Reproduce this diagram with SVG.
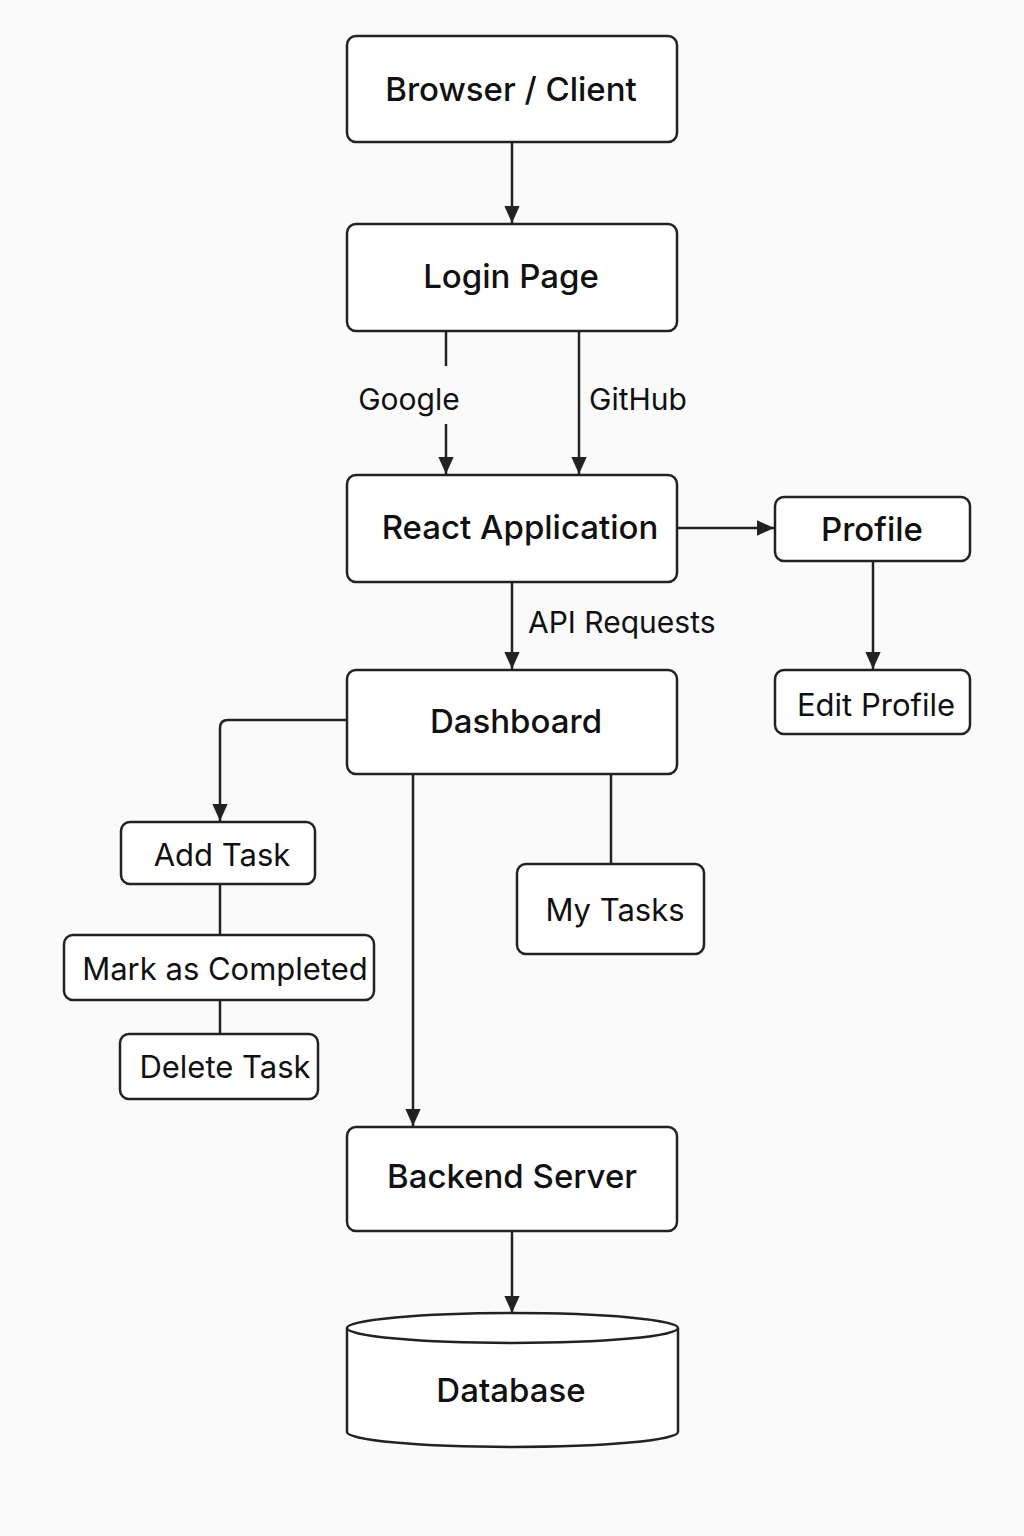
<svg xmlns="http://www.w3.org/2000/svg" width="1024" height="1536" viewBox="0 0 1024 1536">
<defs>
<marker id="arr" viewBox="0 0 10 10" refX="10" refY="5" markerWidth="17" markerHeight="17" markerUnits="userSpaceOnUse" orient="auto">
<path d="M0,0.5 L10,5 L0,9.5 z" fill="#222"/>
</marker>
<style>
.box{fill:#fff;stroke:#222;stroke-width:2.5}
.t{font-family:Inter,"Noto Sans","Liberation Sans",sans-serif;fill:#111;text-anchor:middle}
.big{font-size:33px;font-weight:500}
.mid{font-size:31px;font-weight:400}
.lbl{font-family:Inter,"Noto Sans","Liberation Sans",sans-serif;fill:#111;font-size:30px}
.c{fill:none;stroke:#222;stroke-width:2.5}
</style>
</defs>
<rect width="1024" height="1536" fill="#fafafa"/>
<g id="connectors">
<line class="c" x1="512" y1="142" x2="512" y2="223" marker-end="url(#arr)"/>
<line class="c" x1="446" y1="331" x2="446" y2="366"/>
<line class="c" x1="446" y1="424" x2="446" y2="474" marker-end="url(#arr)"/>
<line class="c" x1="579" y1="331" x2="579" y2="474" marker-end="url(#arr)"/>
<line class="c" x1="677" y1="528" x2="774" y2="528" marker-end="url(#arr)"/>
<line class="c" x1="873" y1="561" x2="873" y2="669" marker-end="url(#arr)"/>
<line class="c" x1="512" y1="582" x2="512" y2="669" marker-end="url(#arr)"/>
<path class="c" d="M347,720 L228,720 Q220,720 220,728 L220,821" marker-end="url(#arr)"/>
<line class="c" x1="220" y1="884" x2="220" y2="935"/>
<line class="c" x1="220" y1="1000" x2="220" y2="1034"/>
<line class="c" x1="413" y1="774" x2="413" y2="1126" marker-end="url(#arr)"/>
<line class="c" x1="611" y1="774" x2="611" y2="864"/>
<line class="c" x1="512" y1="1231" x2="512" y2="1313" marker-end="url(#arr)"/>
<text class="lbl" x="409" y="410" text-anchor="middle">Google</text>
<text class="lbl" x="589" y="410">GitHub</text>
<text class="lbl" x="528" y="633">API Requests</text>
</g>
<g id="browser">
<rect class="box" x="347" y="36" width="330" height="106" rx="9"/>
<text class="t big" x="511" y="101">Browser / Client</text>
</g>
<g id="login">
<rect class="box" x="347" y="224" width="330" height="107" rx="9"/>
<text class="t big" x="511" y="288">Login Page</text>
</g>
<g id="react">
<rect class="box" x="347" y="475" width="330" height="107" rx="9"/>
<text class="t big" x="520" y="539">React Application</text>
</g>
<g id="profile">
<rect class="box" x="775" y="497" width="195" height="64" rx="9"/>
<text class="t big" x="872" y="541">Profile</text>
</g>
<g id="editprofile">
<rect class="box" x="775" y="670" width="195" height="64" rx="9"/>
<text class="t mid" x="876" y="716">Edit Profile</text>
</g>
<g id="dashboard">
<rect class="box" x="347" y="670" width="330" height="104" rx="9"/>
<text class="t big" x="516" y="733">Dashboard</text>
</g>
<g id="addtask">
<rect class="box" x="121" y="822" width="194" height="62" rx="9"/>
<text class="t mid" x="222" y="866">Add Task</text>
</g>
<g id="markcompleted">
<rect class="box" x="64" y="935" width="310" height="65" rx="9"/>
<text class="t mid" x="225" y="980">Mark as Completed</text>
</g>
<g id="deletetask">
<rect class="box" x="120" y="1034" width="198" height="65" rx="9"/>
<text class="t mid" x="225" y="1078">Delete Task</text>
</g>
<g id="mytasks">
<rect class="box" x="517" y="864" width="187" height="90" rx="9"/>
<text class="t mid" x="615" y="921">My Tasks</text>
</g>
<g id="backend">
<rect class="box" x="347" y="1127" width="330" height="104" rx="9"/>
<text class="t big" x="512" y="1188">Backend Server</text>
</g>
<g id="database">
<path class="box" d="M347,1328 L347,1432 A165.5,15 0 0 0 678,1432 L678,1328"/>
<ellipse class="box" cx="512.5" cy="1328" rx="165.5" ry="15"/>
<text class="t big" x="511" y="1402">Database</text>
</g>
</svg>
